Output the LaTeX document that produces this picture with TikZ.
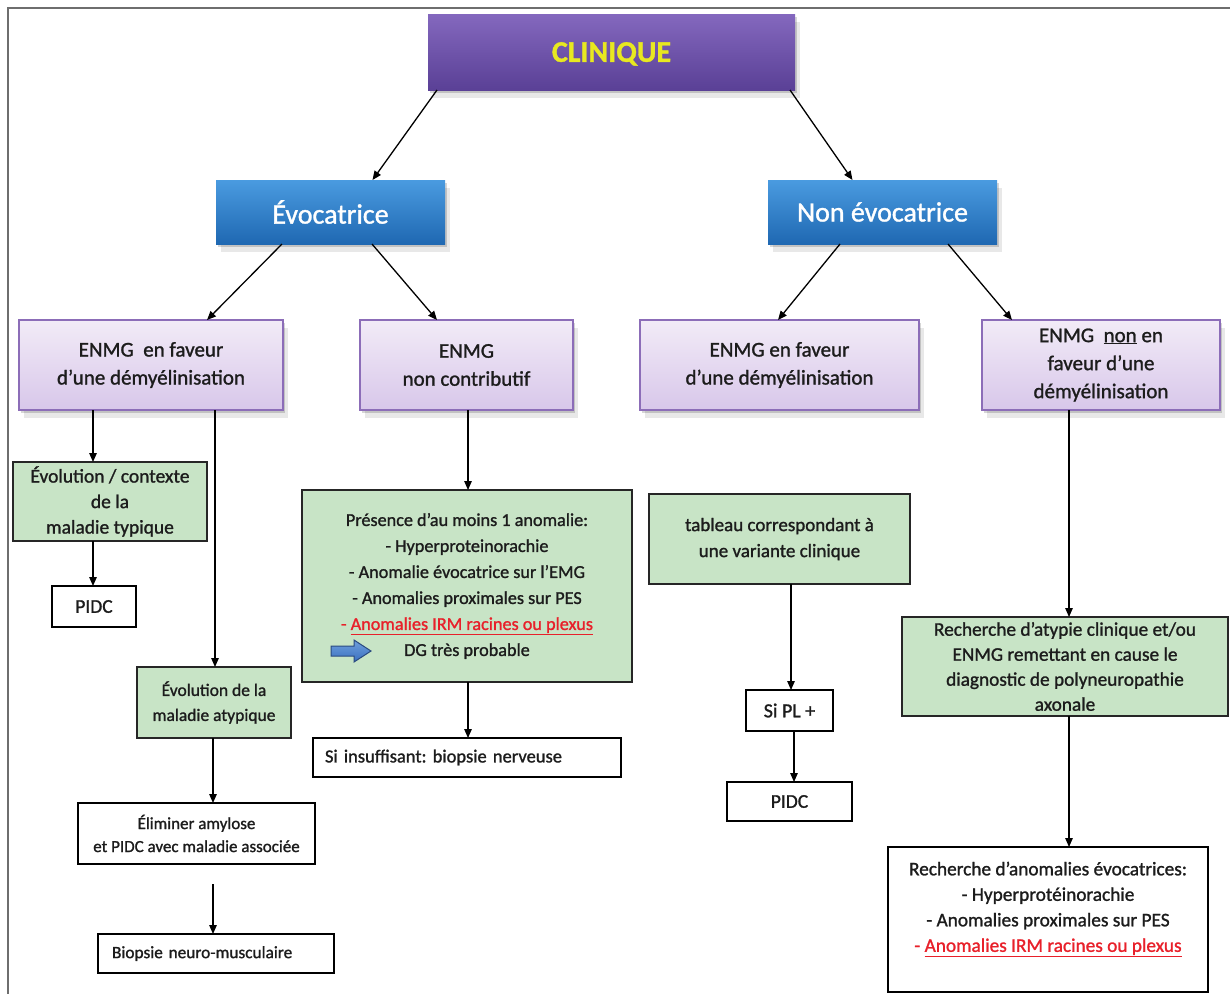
\documentclass[tikz,border=0pt]{standalone}
\usepackage{fontspec}
\setmainfont{Carlito}[FakeBold=1.2]
\usetikzlibrary{arrows.meta,shadows,calc}
\definecolor{clinTop}{HTML}{8468BE}
\definecolor{clinBot}{HTML}{5A4096}
\definecolor{clinText}{HTML}{E8E820}
\definecolor{blueTop}{HTML}{4A9BE0}
\definecolor{blueBot}{HTML}{1F68B2}
\definecolor{lavTop}{HTML}{F2EBF7}
\definecolor{lavBot}{HTML}{D8C7EA}
\definecolor{lavBorder}{HTML}{8C6DB8}
\definecolor{greenFill}{HTML}{C8E4C6}
\definecolor{redTxt}{HTML}{E8202A}
\definecolor{txt}{HTML}{1C1C1C}
\definecolor{frameCol}{HTML}{6E6E6E}
\definecolor{arrTop}{HTML}{6FA0DC}
\definecolor{arrBot}{HTML}{3A6FC0}
\definecolor{arrBorder}{HTML}{2A4A80}
\frenchspacing
\tikzset{
  softshadow/.style={drop shadow={shadow xshift=2pt, shadow yshift=-3pt, opacity=0.16, fill=black},
                     drop shadow={shadow xshift=5pt, shadow yshift=-8pt, opacity=0.09, fill=black}},
  clinbox/.style={top color=clinTop, bottom color=clinBot, draw=none, text=clinText, softshadow,
                  font=\bfseries\fontsize{30}{30}\selectfont, text depth=0pt},
  bluebox/.style={top color=blueTop, bottom color=blueBot, draw=none, text=white, softshadow,
                  font=\fontsize{28}{30}\selectfont},
  pbox/.style={top color=lavTop, bottom color=lavBot, draw=lavBorder, line width=1.5pt, softshadow,
               align=center, text=txt, font=\fontsize{21}{28}\selectfont},
  gbox/.style={fill=greenFill, draw=black!85, line width=1.8pt, align=center, text=txt},
  wbox/.style={fill=white, draw=black, line width=1.8pt, align=center, text=txt},
  arr/.style={-{Triangle[length=9pt,width=7.5pt]}, line width=1.3pt, black},
}
\begin{document}
\begin{tikzpicture}[x=1pt,y=-1pt, every node/.style={inner sep=0pt, outer sep=0pt}]
\useasboundingbox (0,0) rectangle (1230,994);
\fill[white] (0,0) rectangle (1230,994);
\draw[frameCol, line width=2.5pt] (1230,8) -- (8,8) -- (8,994);

% top levels
\node[clinbox, minimum width=367pt, minimum height=76pt] (clin) at (611.5,52) {CLINIQUE};
\node[bluebox, minimum width=229pt, minimum height=64pt] (evo) at (330.5,212) {Évocatrice};
\node[bluebox, minimum width=229pt, minimum height=64pt] (nevo) at (882.5,212) {Non évocatrice};

% purple row
\node[pbox, minimum width=264pt, minimum height=90pt] (p1) at (151,365) {ENMG\ \ en faveur\\d’une démyélinisation};
\node[pbox, minimum width=213pt, minimum height=90pt] (p2) at (466.5,365) {ENMG\\non contributif};
\node[pbox, minimum width=279pt, minimum height=90pt] (p3) at (779.5,365) {ENMG en faveur\\d’une démyélinisation};
\node[pbox, minimum width=238pt, minimum height=90pt] (p4) at (1101,365) {ENMG\ \ \underline{non} en\\faveur d’une\\démyélinisation};

% left column
\node[gbox, minimum width=194pt, minimum height=79pt, font=\fontsize{19.5}{25.5}\selectfont] (g1) at (110,501.5) {Évolution / contexte\\de la\\maladie typique};
\node[wbox, minimum width=84pt, minimum height=41pt, font=\fontsize{19.5}{20}\selectfont] (pidc1) at (94,606.5) {PIDC};
\node[gbox, minimum width=154pt, minimum height=71pt, font=\fontsize{17.5}{25}\selectfont] (g2) at (214,702.5) {Évolution de la\\maladie atypique};
\node[wbox, minimum width=237pt, minimum height=61pt, font=\fontsize{17}{23}\selectfont] (elim) at (196.5,833.5) {Éliminer amylose\\et PIDC avec maladie associée};
\node[wbox, minimum width=236pt, minimum height=39pt, inner xsep=14pt, text width=208pt, align=left, font=\fontsize{17.3}{20}\selectfont] (biop) at (216,953.5) {Biopsie neuro-musculaire};

% middle column
\node[gbox, minimum width=330pt, minimum height=192pt, font=\fontsize{18.2}{26}\selectfont] (g3) at (467,586)
  {Présence d’au moins 1 anomalie:\\- Hyperproteinorachie\\- Anomalie évocatrice sur l’EMG\\- Anomalies proximales sur PES\\\textcolor{redTxt}{- \underline{Anomalies IRM racines ou plexus}}\\DG très probable};
\shade[top color=arrTop, bottom color=arrBot, draw=arrBorder, line width=1pt]
  (331,646) -- (354,646) -- (354,640) -- (371,651) -- (354,662) -- (354,656) -- (331,656) -- cycle;
\node[wbox, minimum width=308pt, minimum height=39pt, inner xsep=12pt, text width=284pt, align=left, font=\fontsize{18.5}{20}\selectfont] (si) at (467,757.5) {Si insuffisant: biopsie nerveuse};

% third column
\node[gbox, minimum width=261pt, minimum height=90pt, font=\fontsize{19}{26}\selectfont] (g4) at (779.5,539) {tableau correspondant à\\une variante clinique};
\node[wbox, minimum width=87pt, minimum height=41pt, font=\fontsize{20}{20}\selectfont] (sipl) at (789.5,710.5) {Si PL +};
\node[wbox, minimum width=125pt, minimum height=39pt, font=\fontsize{19.5}{20}\selectfont] (pidc2) at (789.5,801.5) {PIDC};

% right column
\node[gbox, minimum width=326pt, minimum height=99pt, font=\fontsize{19.3}{25}\selectfont] (g5) at (1065,666.5) {Recherche d’atypie clinique et/ou\\ENMG remettant en cause le\\diagnostic de polyneuropathie\\axonale};
\node[wbox, minimum width=320pt, minimum height=145pt, font=\fontsize{19.3}{25.5}\selectfont] (w2) at (1048,919.5)
  {Recherche d’anomalies évocatrices:\\- Hyperprotéinorachie\\- Anomalies proximales sur PES\\\textcolor{redTxt}{- \underline{Anomalies IRM racines ou plexus}}\\\mbox{}};

% connectors
\draw[arr] ([xshift=9pt]clin.south west) -- ([xshift=42pt]evo.north);
\draw[arr] ([xshift=-5pt]clin.south east) -- ([xshift=-30pt]nevo.north);
\draw[arr] ([xshift=-48.5pt]evo.south) -- ([xshift=56pt]p1.north);
\draw[arr] ([xshift=41.5pt]evo.south) -- ([xshift=-29.5pt]p2.north);
\draw[arr] ([xshift=-42.5pt]nevo.south) -- ([xshift=-1.5pt]p3.north);
\draw[arr] ([xshift=65.5pt]nevo.south) -- ([xshift=-89pt]p4.north);

\draw[arr] (p1.south -| 93,0) -- (g1.north -| 93,0);
\draw[arr] (g1.south -| 93,0) -- (pidc1.north -| 93,0);
\draw[arr] (p1.south -| 215,0) -- (g2.north -| 215,0);
\draw[arr] (g2.south -| 213,0) -- (elim.north -| 213,0);
\draw[arr, shorten <=20pt] (elim.south -| 213,0) -- (biop.north -| 213,0);
\draw[arr] (p2.south -| 468,0) -- (g3.north -| 468,0);
\draw[arr] (g3.south -| 468,0) -- (si.north -| 468,0);
\draw[arr] (g4.south -| 791,0) -- (sipl.north -| 791,0);
\draw[arr] (sipl.south -| 794,0) -- (pidc2.north -| 794,0);
\draw[arr] (p4.south -| 1069,0) -- (g5.north -| 1069,0);
\draw[arr] (g5.south -| 1069,0) -- (w2.north -| 1069,0);
\end{tikzpicture}
\end{document}
